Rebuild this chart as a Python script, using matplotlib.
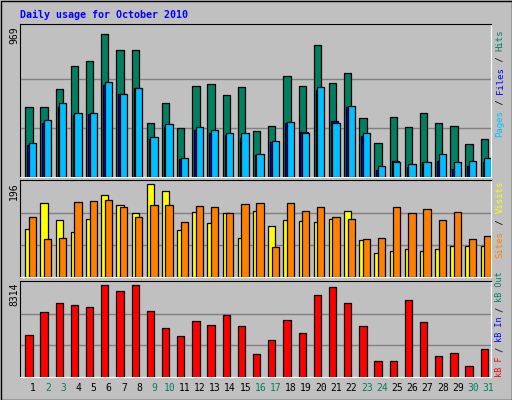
import matplotlib
matplotlib.use("Agg")
import matplotlib.pyplot as plt
import numpy as np

days = list(range(1, 32))
weekend = [2, 3, 9, 10, 16, 17, 23, 24, 30, 31]
hits = [461, 461, 576, 729, 761, 937, 835, 835, 353, 487, 319, 599, 612, 535, 593, 303, 335, 663, 599, 867, 618, 682, 389, 223, 395, 325, 421, 357, 332, 217, 249]
files = [212, 357, 459, 408, 414, 606, 542, 587, 249, 325, 115, 306, 287, 274, 255, 146, 229, 357, 293, 574, 370, 459, 268, 45, 102, 64, 96, 108, 51, 70, 96]
pages = [223, 376, 484, 421, 421, 625, 542, 587, 261, 351, 127, 325, 306, 287, 287, 153, 236, 363, 287, 593, 357, 465, 287, 70, 96, 83, 96, 153, 96, 102, 127]
visits = [98, 152, 116, 93, 118, 168, 147, 131, 190, 176, 96, 133, 110, 131, 81, 135, 104, 116, 114, 112, 118, 135, 75, 50, 54, 58, 54, 58, 64, 64, 64]
sites = [123, 77, 79, 153, 155, 157, 143, 123, 147, 147, 112, 145, 143, 131, 149, 152, 62, 152, 135, 143, 123, 120, 77, 79, 143, 131, 139, 116, 133, 77, 85]
kbytes = [3675, 5720, 6520, 6340, 6160, 8120, 7590, 8120, 5810, 4300, 3590, 4920, 4570, 5460, 4480, 1960, 3200, 5010, 3850, 7230, 7940, 6520, 4480, 1360, 1360, 6790, 4800, 1810, 2080, 920, 2450]
max_hits, max_visits, max_kb = 969, 196, 8314

W, H = 512, 400
fig = plt.figure(figsize=(W/100, H/100), dpi=100)
fig.patch.set_facecolor("#C0C0C0")
fig.add_artist(plt.Rectangle((0.5/W, 0.5/H), 1-1/W, 1-1/H, transform=fig.transFigure, fill=False, ec="black", lw=1))

mono = "DejaVu Sans Mono"
fig.text(20/W, 1-15/H, "Daily usage for October 2010", color="#0000FF", fontsize=7.2, weight="bold", family=mono, va="center")

L, R = 20, 490.5
def mkax(top, bottom):
    ax = fig.add_axes([L/W, 1-bottom/H, (R-L)/W, (bottom-top)/H])
    ax.set_facecolor("#C0C0C0")
    ax.set_xlim(0.5, 31.5)
    for s in ["top", "left"]:
        ax.spines[s].set_color("black")
    for s in ["bottom", "right"]:
        ax.spines[s].set_color("white")
    ax.set_xticks([]); ax.set_yticks([])
    return ax

x = np.array(days, dtype=float)
bw = 0.48

def panel(ax, ymax, series, gridfrac=(1/3, 2/3)):
    for g in gridfrac:
        ax.axhline(ymax * g, color="#808080", lw=1, zorder=0)
    for off, vals, col in series:
        ax.bar(x + off, vals, width=bw, align="edge", color=col, ec="black", lw=0.9, zorder=2)

ax1 = mkax(24.3, 177)
panel(ax1, max_hits, [(-0.15, hits, "#008060"), (-0.02, files, "#0000FF"), (0.08, pages, "#00C0FF")])
ax1.set_ylim(0, max_hits / 0.967)
ax2 = mkax(180, 277)
panel(ax2, max_visits, [(-0.15, visits, "#FFFF00"), (0.08, sites, "#FF8000")])
ax2.set_ylim(0, max_visits / 0.985)
ax3 = mkax(280.5, 376.5)
panel(ax3, max_kb, [(-0.15, kbytes, "#FF0000")])
ax3.set_ylim(0, max_kb / 0.977)

for ax, top, lab in [(ax1, 24.3, str(max_hits)), (ax2, 180, str(max_visits)), (ax3, 280.5, str(max_kb))]:
    fig.text(14/W, 1-(top+2)/H, lab, rotation=90, family=mono, fontsize=7, va="top", ha="center")

for d in days:
    xpix = L + (d + 0.35 - 0.5) / 31 * (R - L)
    fig.text(xpix/W, 1-388/H, str(d), ha="center", va="center", fontsize=7, family=mono,
             color="#008060" if d in weekend else "black")

def vlegend(bottom_y, parts, cw, fs):
    y = bottom_y
    for txt, col in parts:
        fig.text(500/W, 1-y/H, txt, rotation=90, family=mono, fontsize=fs, color=col, ha="center", va="bottom")
        y -= cw * len(txt)

vlegend(137, [("Pages", "#00C0FF"), (" / ", "black"), ("Files", "#0000FF"), (" / ", "black"), ("Hits", "#008060")], 5.35, 6.5)
vlegend(258, [("Sites", "#FF8000"), (" / ", "black"), ("Visits", "#FFFF00")], 5.6, 6.5)
vlegend(377, [("kB F", "#FF0000"), (" / ", "black"), ("kB In", "#0000FF"), (" / ", "black"), ("kB Out", "#008060")], 5.0, 6.1)

fig.savefig("out.png", dpi=100, facecolor=fig.get_facecolor())
